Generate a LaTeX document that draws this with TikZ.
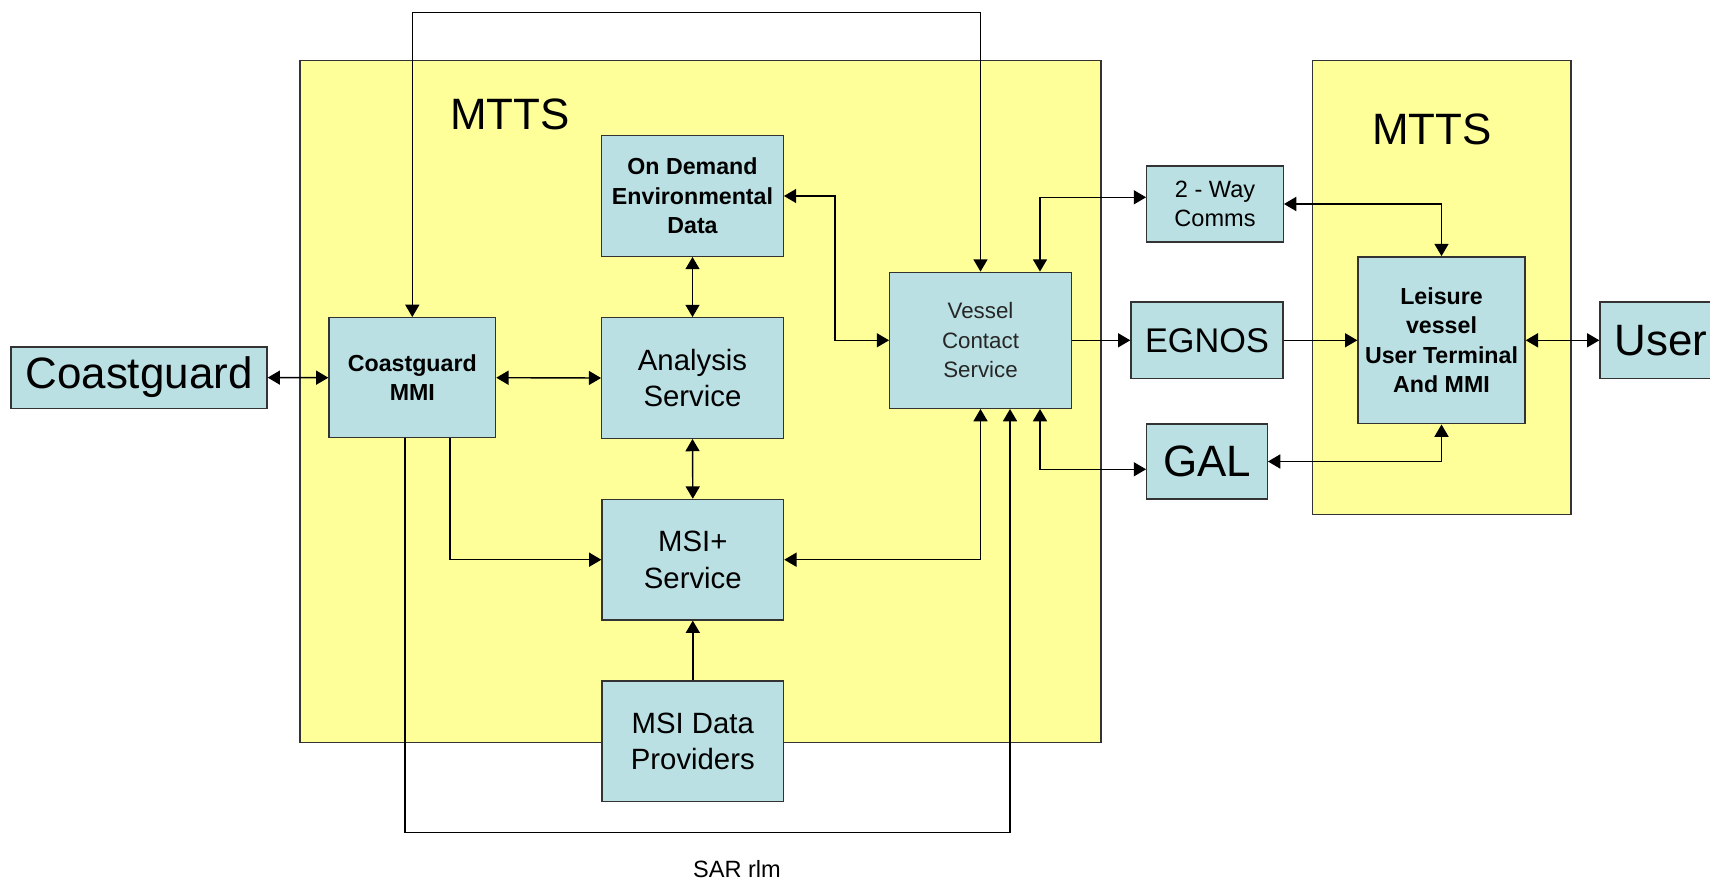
\documentclass[tikz,border=0pt]{standalone}
\usepackage{fontspec}
\setmainfont{Liberation Sans}
\usetikzlibrary{arrows.meta,positioning}

\definecolor{frameyellow}{RGB}{255,255,153}
\definecolor{boxblue}{RGB}{186,224,227}

\begin{document}
\begin{tikzpicture}[x=0.02cm, y=-0.02cm]
  \tikzstyle{frame} = [draw=black!80, fill=frameyellow, line width=0.8pt]
  \tikzstyle{box} = [rectangle, draw=black!80, fill=boxblue, line width=0.8pt, inner sep=0pt, align=center]
  \tikzstyle{txtbig} = [font=\fontsize{25}{30}\selectfont]
  \tikzstyle{txtmid} = [font=\fontsize{16.7}{20.8}\selectfont]
  \tikzstyle{txtsmall} = [font=\fontsize{13.4}{16.8}\selectfont]
  \tikzstyle{txtbold} = [font=\fontsize{13.2}{16.8}\selectfont\bfseries]
  \tikzstyle{one} = [line width=0.8pt, -{Triangle[length=7pt,width=8pt]}]
  \tikzstyle{both} = [line width=0.8pt, {Triangle[length=7pt,width=8pt]}-{Triangle[length=7pt,width=8pt]}]

  \clip (0,0) rectangle (1710,881);

  \filldraw[frame] (300,60.7) rectangle (1101,742.5);
  \filldraw[frame] (1312.5,60.7) rectangle (1571,514.7);
  \node (mttsleft) [txtbig] at (510,114) {MTTS};
  \node (mttsright) [txtbig] at (1432,129) {MTTS};

  \node (coastguard) [box, txtbig, minimum width=5.12cm, minimum height=1.23cm] at (139,377.6) {Coastguard};
  \node (mmi) [box, txtbold, minimum width=3.33cm, minimum height=2.4cm] at (412.3,377.7) {Coastguard\\MMI};
  \node (ondemand) [box, txtbold, minimum width=3.63cm, minimum height=2.41cm] at (692.5,196) {On Demand\\Environmental\\Data};
  \node (analysis) [box, txtmid, minimum width=3.63cm, minimum height=2.41cm] at (692.5,378) {Analysis\\Service};
  \node (msip) [box, txtmid, minimum width=3.63cm, minimum height=2.41cm] at (692.8,559.7) {MSI+\\Service};
  \node (msidata) [box, txtmid, minimum width=3.63cm, minimum height=2.41cm] at (692.8,741.2) {MSI Data\\Providers};
  \node (vessel) [box, font=\fontsize{12.7}{16.8}\selectfont, text=black!85, minimum width=3.63cm, minimum height=2.72cm] at (980.5,340.3) {Vessel\\Contact\\Service};
  \node (twoway) [box, txtsmall, minimum width=2.73cm, minimum height=1.52cm] at (1215,204) {2 - Way\\Comms};
  \node (egnos) [box, font=\fontsize{19.5}{24}\selectfont, minimum width=3.04cm, minimum height=1.53cm] at (1207,340.3) {EGNOS};
  \node (gal) [box, txtbig, minimum width=2.41cm, minimum height=1.5cm] at (1207,461.5) {GAL};
  \node (leisure) [box, txtbold, minimum width=3.34cm, minimum height=3.34cm] at (1441.5,340.3) {Leisure\\vessel\\User Terminal\\And MMI};
  \node (user) [box, txtbig, minimum width=2.44cm, minimum height=1.53cm] at (1661,340.3) {User};
  \node (sar) [txtsmall] at (737,869) {SAR rlm};

  \coordinate (toprail) at (700,12.7);
  \coordinate (sarrail) at (700,832.7);
  \coordinate (odbend) at (835,270);

  \draw[both] (coastguard.east) -- (mmi.west);
  \draw[both] (mmi.east) -- (analysis.west);
  \draw[both] (mmi.north) |- (toprail) -| (vessel.north);
  \draw[both] (ondemand.south) -- (analysis.north);
  \draw[both] (analysis.south) -- (msip.north);
  \draw[one] (msidata.north) -- (msip.south);
  \draw[one] ([xshift=0.75cm]mmi.south) |- (msip.west);
  \draw[one] ([xshift=-0.15cm]mmi.south) |- (sarrail) -| ([xshift=0.59cm]vessel.south);
  \draw[both] (msip.east) -| (vessel.south);
  \draw[both] (ondemand.east) -| (odbend) |- (vessel.west);
  \draw[both] ([xshift=1.19cm]vessel.north) |- ([yshift=0.134cm]twoway.west);
  \draw[both] ([xshift=1.19cm]vessel.south) |- ([yshift=-0.156cm]gal.west);
  \draw[one] (vessel.east) -- (egnos.west);
  \draw[one] (egnos.east) -- (leisure.west);
  \draw[both] (twoway.east) -| (leisure.north);
  \draw[both] (gal.east) -| (leisure.south);
  \draw[both] (leisure.east) -- (user.west);
\end{tikzpicture}
\end{document}
